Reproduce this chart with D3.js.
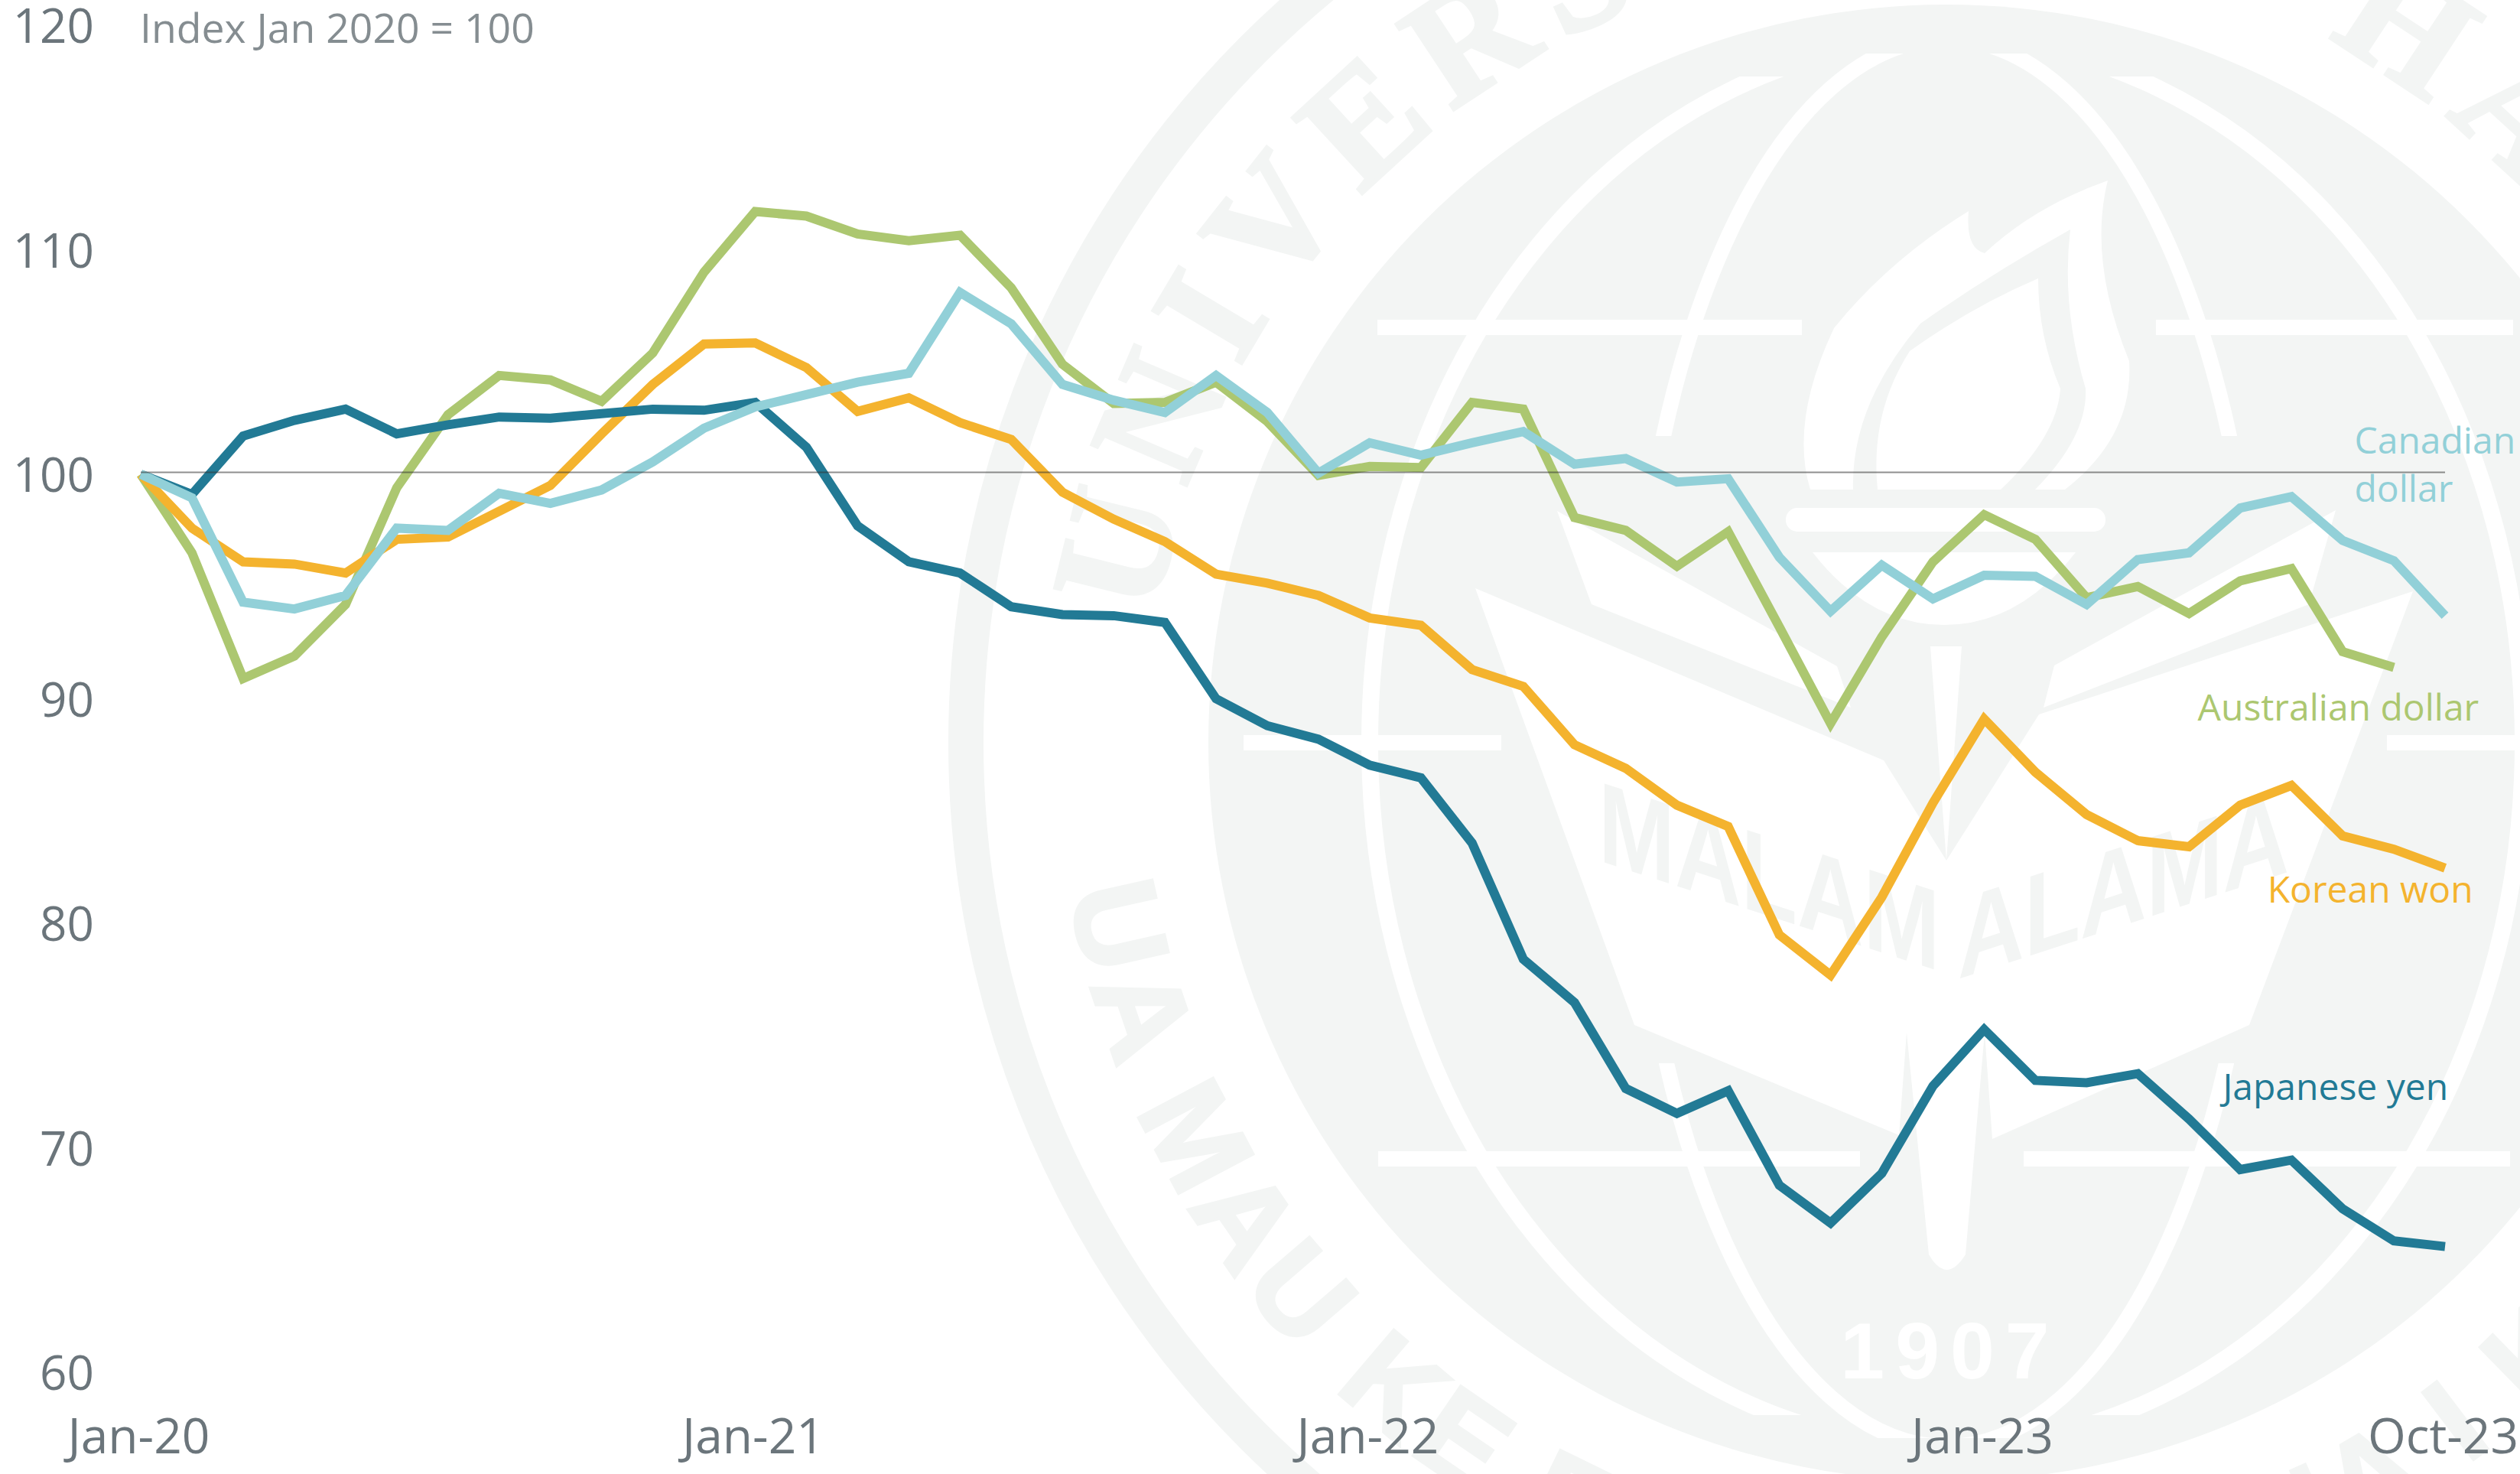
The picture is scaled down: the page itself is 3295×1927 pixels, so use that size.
<!DOCTYPE html>
<html lang="en">
<head>
<meta charset="utf-8">
<title>Asian-Pacific currencies against the dollar</title>
<script src="https://d3js.org/d3.v7.min.js"></script>
<style>
  html, body { margin: 0; padding: 0; background: #fff; }
  svg { display: block; }
  text { font-family: "Open Sans", sans-serif; }
  .tick text { font-weight: 400; fill: #6b757b; }
  .series-label { font-size: 48px; font-weight: 400; }
</style>
</head>
<body>
<div id="chart"></div>
<script>
// monthly, Jan-20 to Oct-23
const months = ["Jan-20","Feb-20","Mar-20","Apr-20","May-20","Jun-20","Jul-20","Aug-20","Sep-20","Oct-20","Nov-20","Dec-20",
  "Jan-21","Feb-21","Mar-21","Apr-21","May-21","Jun-21","Jul-21","Aug-21","Sep-21","Oct-21","Nov-21","Dec-21",
  "Jan-22","Feb-22","Mar-22","Apr-22","May-22","Jun-22","Jul-22","Aug-22","Sep-22","Oct-22","Nov-22","Dec-22",
  "Jan-23","Feb-23","Mar-23","Apr-23","May-23","Jun-23","Jul-23","Aug-23","Sep-23","Oct-23"];

const japaneseYen = [100,99.1,101.7,102.4,102.9,101.8,102.2,102.55,102.5,102.7,102.9,102.85,
  103.2,101.2,97.7,96.1,95.6,94.1,93.75,93.7,93.4,90.0,88.8,88.2,
  87.04,86.48,83.57,78.4,76.47,72.64,71.53,72.54,68.33,66.65,68.86,72.75,
  75.27,73.0,72.9,73.3,71.28,69.03,69.45,67.28,65.85,65.6];
const koreanWon = [100,97.6,96.1,96.0,95.6,97.1,97.2,98.35,99.5,101.8,104.0,105.8,
  105.85,104.75,102.8,103.4,102.3,101.55,99.2,98.0,97.0,95.55,95.15,94.6,
  93.6,93.27,91.3,90.55,87.95,86.9,85.26,84.31,79.48,77.69,81.16,85.36,
  89.1,86.73,84.84,83.68,83.41,85.26,86.14,83.89,83.3,82.46];
const australianDollar = [100,96.5,90.9,91.9,94.2,99.4,102.65,104.4,104.2,103.25,105.4,109.0,
  111.7,111.5,110.7,110.4,110.65,108.3,104.9,103.15,103.2,104.1,102.35,99.95,
  100.35,100.3,103.2,102.9,98.07,97.5,95.9,97.44,93.2,88.9,92.75,96.1,
  98.2,97.1,94.5,95.0,93.8,95.25,95.8,92.1,91.4];
const canadianDollar = [100,98.95,94.3,94.0,94.6,97.6,97.5,99.15,98.7,99.3,100.55,102.05,
  103.0,103.55,104.1,104.5,108.1,106.7,104.0,103.3,102.75,104.4,102.75,100.05,
  101.4,100.85,101.4,101.9,100.45,100.7,99.65,99.8,96.3,93.9,95.95,94.45,
  95.5,95.45,94.2,96.2,96.5,98.5,99.0,97.05,96.15,93.7];

const yTicks = [60,70,80,90,100,110,120];
const xTickLabels = ["Jan-20","Jan-21","Jan-22","Jan-23","Oct-23"];
const baseValue = 100;

const width = 3295, height = 1927;
const green = "#ACC770", orange = "#F4B32E", blue = "#227A95", cyan = "#92D0D8";
const sealGrey = "#F3F5F4";

const svg = d3.select("#chart").append("svg")
  .attr("width", width)
  .attr("height", height);

// faded university seal behind the chart
const cx = 2545, cy = 971;
const seal = svg.append("g");
const defs = svg.append("defs");

seal.append("circle").attr("cx", cx).attr("cy", cy).attr("r", 1282)
  .attr("fill", "none").attr("stroke", sealGrey).attr("stroke-width", 46);
seal.append("circle").attr("cx", cx).attr("cy", cy).attr("r", 965).attr("fill", sealGrey);

// lettering on the ring
defs.append("path").attr("id", "arcTop")
  .attr("d", `M${cx - 1046},${cy} A1046,1046 0 0 1 ${cx + 1046},${cy}`);
defs.append("path").attr("id", "arcBottom")
  .attr("d", `M${cx - 1163},${cy} A1163,1163 0 0 0 ${cx + 1163},${cy}`);
seal.append("text")
  .style("font-family", "'Liberation Serif', serif").style("font-weight", 700)
  .style("font-size", "205px").style("letter-spacing", "24px")
  .attr("fill", sealGrey).attr("stroke", sealGrey).attr("stroke-width", 5)
  .attr("text-anchor", "middle")
  .append("textPath").attr("href", "#arcTop").attr("startOffset", "50.8%")
  .text("UNIVERSITY OF HAWAI‘I");
seal.append("text")
  .style("font-family", "'Liberation Sans', sans-serif").style("font-weight", 700)
  .style("font-size", "160px").style("letter-spacing", "10px")
  .attr("fill", sealGrey).attr("stroke", sealGrey).attr("stroke-width", 4)
  .append("textPath").attr("href", "#arcBottom").attr("startOffset", 195)
  .text("UA MAU KE EA O KA ‘ĀINA I KA PONO");

// globe lines, clipped so the curves stop short of the rim and the flame
const clipOuter = defs.append("clipPath").attr("id", "clipOuter");
clipOuter.append("rect").attr("x", 0).attr("y", 100).attr("width", width).attr("height", 1750);
const clipInner = defs.append("clipPath").attr("id", "clipInner");
clipInner.append("rect").attr("x", 0).attr("y", 70).attr("width", width).attr("height", 500);
clipInner.append("rect").attr("x", 0).attr("y", 1390).attr("width", width).attr("height", 490);

seal.append("ellipse").attr("cx", cx).attr("cy", cy).attr("rx", 754).attr("ry", 920)
  .attr("fill", "none").attr("stroke", "#fff").attr("stroke-width", 22)
  .attr("clip-path", "url(#clipOuter)");
seal.append("ellipse").attr("cx", cx).attr("cy", cy).attr("rx", 411).attr("ry", 920)
  .attr("fill", "none").attr("stroke", "#fff").attr("stroke-width", 20)
  .attr("clip-path", "url(#clipInner)");

const latitudes = [[1801,2356,428],[2819,3286,428],[1626,1963,971],[3121,3295,971],[1802,2432,1515],[2646,3282,1515]];
seal.selectAll("line.lat").data(latitudes).enter().append("line")
  .attr("x1", d => d[0]).attr("x2", d => d[1])
  .attr("y1", d => d[2]).attr("y2", d => d[2])
  .attr("stroke", "#fff").attr("stroke-width", 20);

// open book, the torch stem running through it, and the rays above it
const whiteShapes = [
  "M1929,769 L2463,994 L2545,1125 L2666,934 L3155,773 L2941,1340 L2605,1489 L2595,1350 L2570,1640 Q2545,1680 2522,1640 L2493,1350 L2483,1484 L2137,1340 Z",
  "M2036,668 L2081,790 L2420,925 L2402,871 Z",
  "M2686,870 L3054,667 L3019,790 L2672,925 Z",
  "M2524,845 L2565,845 L2545,1125 Z"
];
seal.selectAll("path.shape").data(whiteShapes).enter().append("path")
  .attr("d", d => d).attr("fill", "#fff");

// torch
seal.append("rect").attr("x", 2335).attr("y", 664).attr("width", 418).attr("height", 31).attr("rx", 15).attr("fill", "#fff");
seal.append("path").attr("d", "M2370,722 L2714,722 Q2640,817 2542,817 Q2444,817 2370,722 Z").attr("fill", "#fff");
seal.append("path").attr("fill", "#fff")
  .attr("d", "M2367,640 Q2340,551 2398,429 Q2470,340 2574,276 Q2570,325 2595,331 Q2660,270 2756,236 Q2730,340 2784,472 Q2790,570 2700,640 Z");
seal.append("path").attr("fill", sealGrey)
  .attr("d", "M2423,640 Q2420,530 2511,423 Q2600,360 2707,300 Q2695,400 2727,508 Q2730,570 2661,640 Z");
seal.append("path").attr("fill", "#fff")
  .attr("d", "M2455,640 Q2445,540 2497,459 Q2580,400 2665,364 Q2665,440 2694,508 Q2690,570 2616,640 Z");

seal.append("text").text("MALAM")
  .attr("transform", "translate(2090,1125) skewY(18) scale(0.8,1)")
  .style("font-family", "'Liberation Sans', sans-serif").style("font-weight", 700)
  .style("font-size", "150px").attr("fill", sealGrey);
seal.append("text").text("ALAMA")
  .attr("transform", "translate(2560,1280) skewY(-18) scale(0.8,1)")
  .style("font-family", "'Liberation Sans', sans-serif").style("font-weight", 700)
  .style("font-size", "150px").attr("fill", sealGrey);
seal.append("text").text("1907")
  .attr("x", 2550).attr("y", 1802).attr("text-anchor", "middle")
  .style("font-family", "'Liberation Sans', sans-serif").style("font-weight", 700)
  .style("font-size", "104px").style("letter-spacing", "14px").attr("fill", "#fff");

// scales: x runs over month position, y over the index
const x = d3.scaleLinear().domain([0, months.length - 1]).range([184, 3197]);
const y = d3.scaleLinear().domain([60, 120]).range([1794, 33]);

const line = d3.line().x((d, i) => x(i)).y(d => y(d));

// draw order as in the picture: cyan ends up on top
const series = [
  { name: "Australian dollar", values: australianDollar, color: green },
  { name: "Korean won", values: koreanWon, color: orange },
  { name: "Japanese yen", values: japaneseYen, color: blue },
  { name: "Canadian dollar", values: canadianDollar, color: cyan }
];

svg.append("g").selectAll("path").data(series).enter().append("path")
  .attr("d", d => line(d.values))
  .attr("fill", "none")
  .attr("stroke", d => d.color)
  .attr("stroke-width", 12)
  .attr("stroke-linejoin", "miter");

// reference line at 100 sits a touch above where the series start
svg.append("line")
  .attr("x1", x(0)).attr("x2", x(months.length - 1))
  .attr("y1", y(baseValue) - 2.5).attr("y2", y(baseValue) - 2.5)
  .attr("stroke", "#333").attr("stroke-opacity", 0.55).attr("stroke-width", 2);

// axes
const yAxis = d3.axisLeft(y).tickValues(yTicks).tickSize(0).tickPadding(0);
const gy = svg.append("g").attr("transform", "translate(123,0)").call(yAxis);
gy.select(".domain").remove();
gy.selectAll("text").attr("dy", "0.37em").style("font-size", "62px");

const xAxis = d3.axisBottom(x)
  .tickValues(xTickLabels.map(m => months.indexOf(m)))
  .tickFormat(i => months[i])
  .tickSize(0).tickPadding(0);
const gx = svg.append("g").attr("transform", "translate(0,1900)").call(xAxis);
gx.select(".domain").remove();
gx.selectAll("text").attr("y", 0).attr("dy", 0).attr("dx", -3).style("font-size", "64px");

svg.append("text").text("Index Jan 2020 = 100")
  .attr("x", 183).attr("y", 56)
  .style("font-size", "53.5px").style("font-weight", 400).attr("fill", "#858d91");

// series labels, placed against the scales
const labels = [
  { text: "Canadian", at: 43.23, value: 100.92, color: cyan },
  { text: "dollar", at: 43.23, value: 98.77, color: cyan },
  { text: "Australian dollar", at: 40.17, value: 89.03, color: green },
  { text: "Korean won", at: 41.53, value: 80.91, color: orange },
  { text: "Japanese yen", at: 40.66, value: 72.12, color: blue }
];
svg.append("g").selectAll("text").data(labels).enter().append("text")
  .attr("class", "series-label")
  .attr("x", d => x(d.at))
  .attr("y", d => y(d.value))
  .attr("fill", d => d.color)
  .text(d => d.text);
</script>
</body>
</html>
